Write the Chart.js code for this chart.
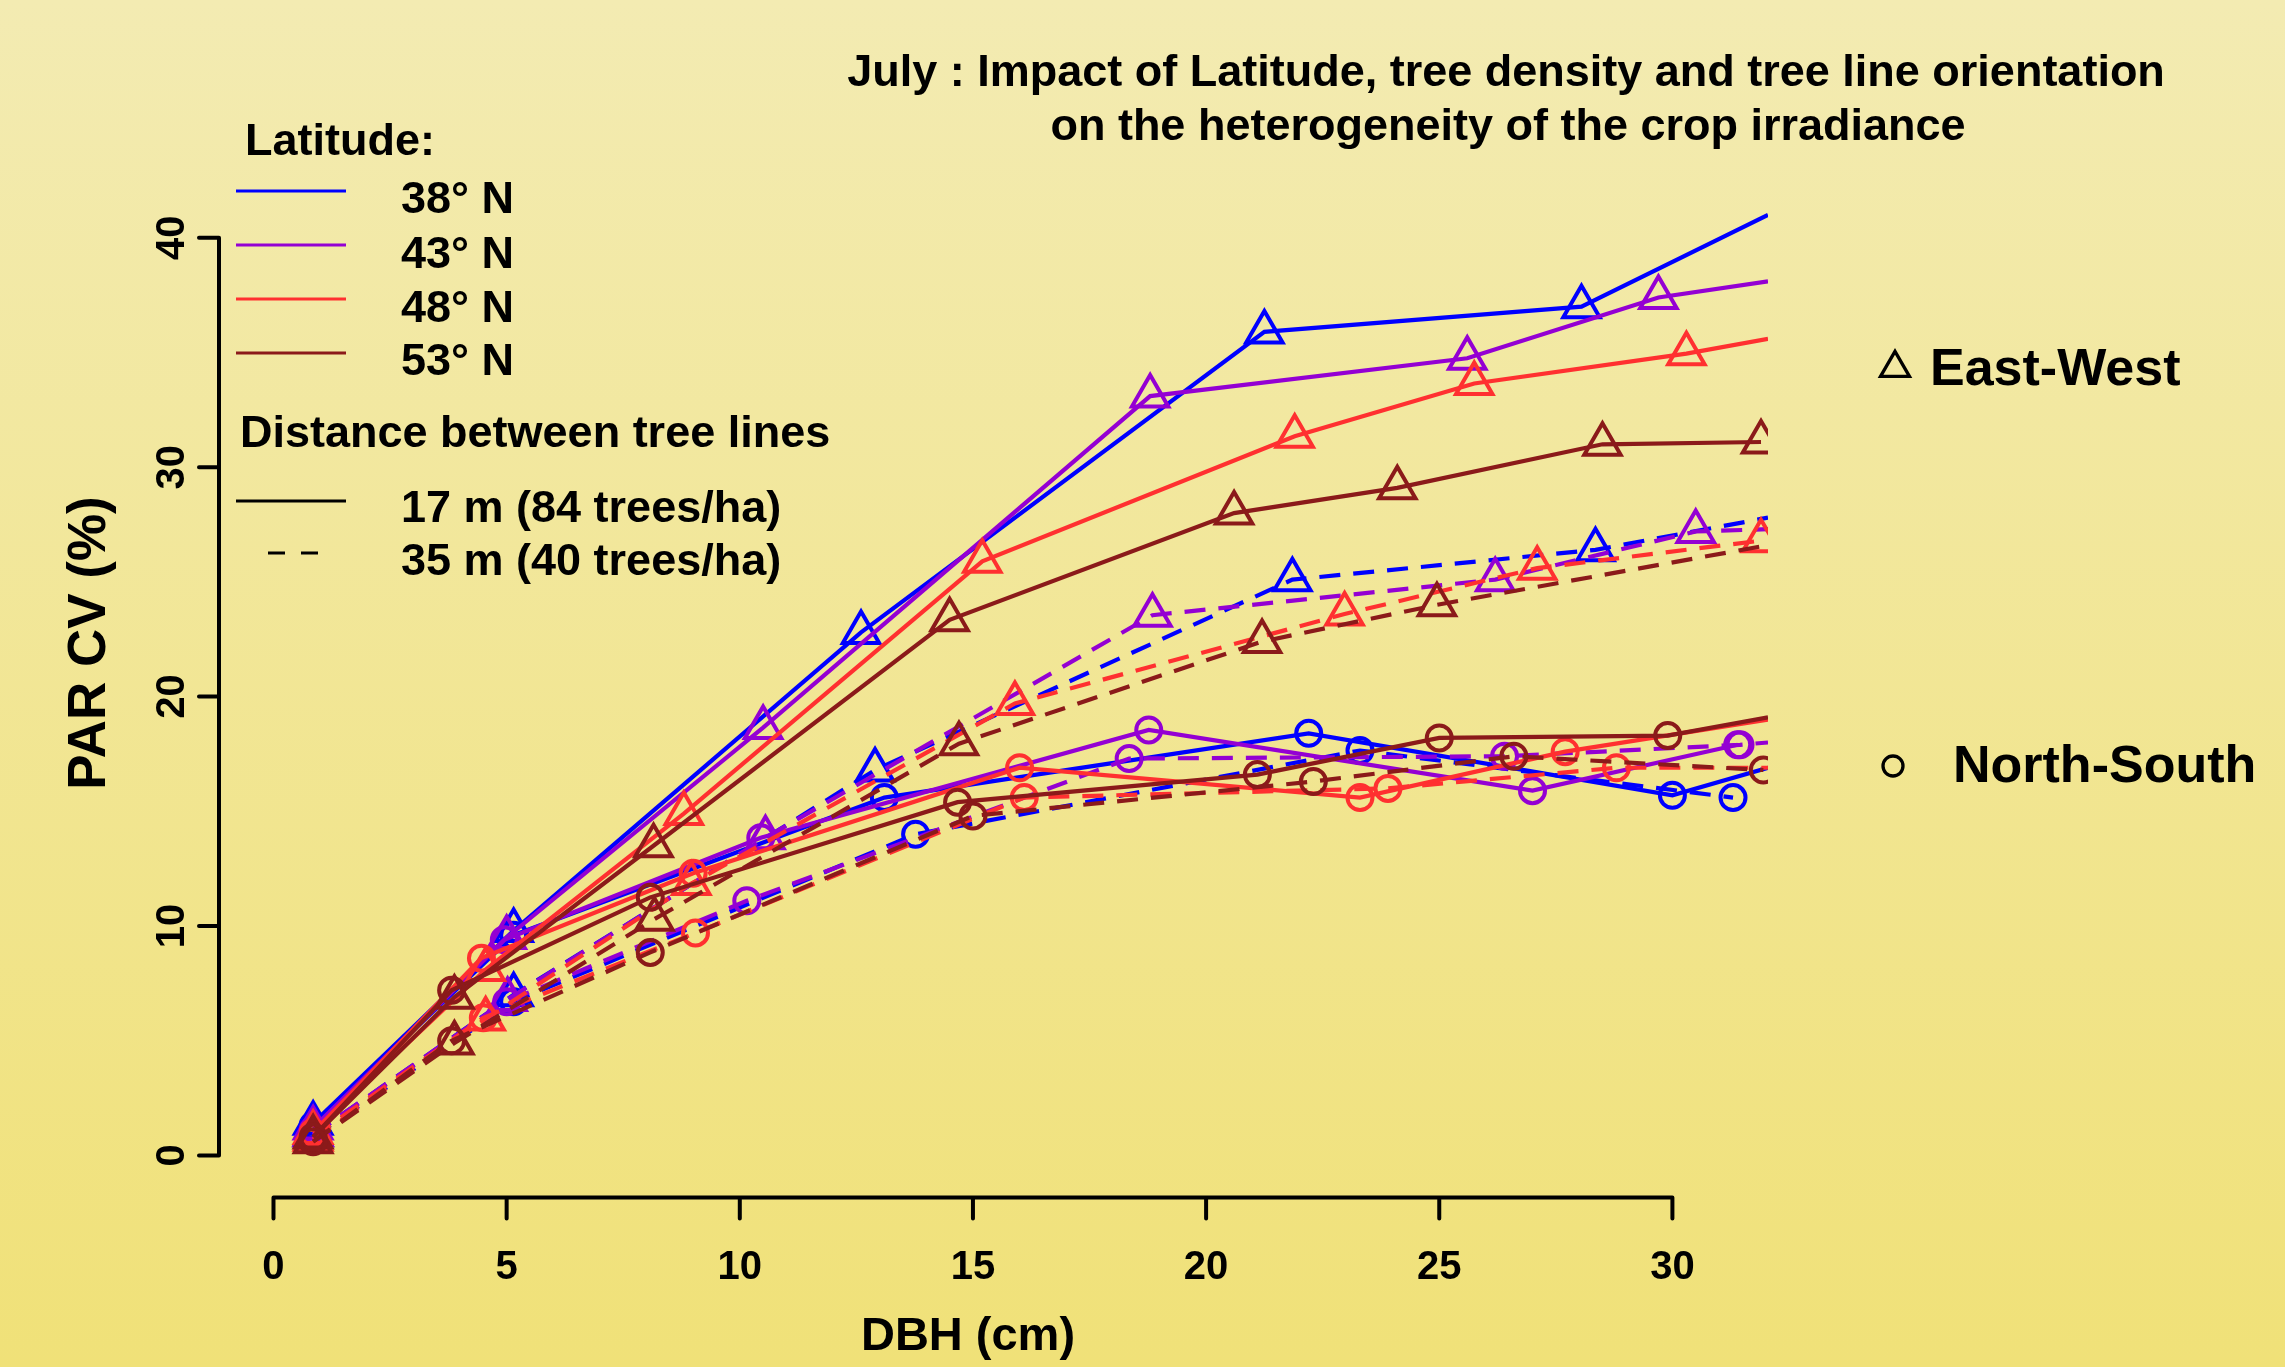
<!DOCTYPE html>
<html>
<head>
<meta charset="utf-8">
<script src="https://cdn.jsdelivr.net/npm/chart.js@4.4.1/dist/chart.umd.min.js"></script>
<style>
  html, body { margin: 0; padding: 0; }
  body { width: 2285px; height: 1367px; overflow: hidden; }
  #wrap { position: relative; width: 2285px; height: 1367px; }
</style>
</head>
<body>
<div id="wrap"><canvas id="parChart"></canvas></div>
<script>
// Latitude groups (one colour each)
const LATITUDES = ['38° N', '43° N', '48° N', '53° N'];
const LAT_COLORS = ['#0000FF', '#9400D3', '#FF3030', '#8B1A1A'];

const X_TICKS = [0, 5, 10, 15, 20, 25, 30];
const Y_TICKS = [0, 10, 20, 30, 40];

// East-West rows, 17 m between tree lines (solid, triangles)
const EW17_DBH = [
  [0.85, 5.15, 12.6, 21.25, 28.05, 32.05],
  [0.85, 5.0, 10.5, 18.8, 25.6, 29.7, 32.05],
  [0.85, 4.55, 8.8, 15.2, 21.9, 25.75, 30.3, 32.05],
  [0.85, 3.88, 8.15, 14.5, 20.6, 24.1, 28.5, 31.9]
];
const EW17_CV = [
  [1.4, 9.8, 22.8, 35.9, 37.0, 41.0],
  [1.2, 9.5, 18.65, 33.1, 34.75, 37.4, 38.1],
  [1.0, 8.1, 14.9, 25.9, 31.35, 33.65, 34.95, 35.6],
  [0.8, 6.9, 13.5, 23.35, 28.0, 29.1, 31.0, 31.1]
];

// East-West rows, 35 m between tree lines (dashed, triangles)
const EW35_DBH = [
  [0.85, 5.15, 12.9, 21.85, 28.35, 32.05],
  [0.85, 5.02, 10.55, 18.85, 26.2, 30.5, 32.05],
  [0.85, 4.55, 8.96, 15.9, 22.97, 27.1, 31.9],
  [0.85, 3.88, 8.17, 14.7, 21.2, 24.95, 32.05]
];
const EW35_CV = [
  [0.9, 7.0, 16.8, 25.1, 26.4, 27.8],
  [0.9, 6.8, 13.85, 23.55, 25.1, 27.2, 27.3],
  [0.7, 5.95, 11.85, 19.7, 23.6, 25.6, 26.8],
  [0.6, 4.9, 10.3, 17.95, 22.4, 24.0, 26.6]
];

// North-South rows, 17 m between tree lines (solid, circles)
const NS17_DBH = [
  [0.85, 5.15, 13.1, 22.2, 30.0, 32.05],
  [0.85, 4.95, 10.45, 18.77, 27.0, 31.4],
  [0.85, 4.46, 9.0, 16.0, 23.3, 27.7, 32.05],
  [0.85, 3.82, 8.08, 14.67, 21.1, 25.0, 29.9, 32.05]
];
const NS17_CV = [
  [1.3, 9.6, 15.6, 18.4, 15.7, 16.9],
  [1.1, 9.4, 13.85, 18.55, 15.9, 17.9],
  [1.0, 8.6, 12.3, 16.9, 15.6, 17.6, 19.0],
  [0.8, 7.2, 11.25, 15.4, 16.6, 18.2, 18.3, 19.1]
];

// North-South rows, 35 m between tree lines (dashed, circles)
const NS35_DBH = [
  [0.85, 5.15, 13.77, 23.3, 31.3],
  [0.85, 5.0, 10.15, 18.35, 26.4, 31.45, 32.05],
  [0.85, 4.5, 9.05, 16.1, 23.9, 28.8, 32.05],
  [0.85, 3.82, 8.08, 15.0, 22.3, 26.6, 31.95]
];
const NS35_CV = [
  [0.8, 6.7, 14.0, 17.65, 15.6],
  [0.9, 6.7, 11.1, 17.3, 17.4, 17.9, 18.0],
  [0.8, 6.0, 9.7, 15.6, 16.0, 16.9, 16.9],
  [0.6, 5.0, 8.85, 14.8, 16.3, 17.4, 16.8]
];

const X_MIN = -1.19, X_EDGE = 32.05;
const Y_MIN = -1.9, Y_MAX = 41.3;
const FONT = '"Liberation Sans", Arial, Helvetica, sans-serif';

function toPoints(xs, ys) {
  return xs.map((x, i) => ({ x: x, y: ys[i] }));
}

function makeSet(label, xs, ys, color, dashed, shape) {
  const r = shape === 'triangle' ? 21 : 12.5;
  return {
    label: label,
    data: toPoints(xs, ys),
    borderColor: color,
    borderWidth: 4.2,
    borderDash: dashed ? [21, 13] : [],
    pointStyle: shape,
    // values read at the clipped right edge get no marker
    pointRadius: ctx => (ctx.raw && ctx.raw.x >= X_EDGE) ? 0 : r,
    pointBorderColor: color,
    pointBackgroundColor: 'rgba(0,0,0,0)',
    pointBorderWidth: 4,
    tension: 0,
    clip: 0
  };
}

// R-like drawing order: latitude by latitude, 53° N ends on top
const datasets = [];
LATITUDES.forEach((lat, i) => {
  const c = LAT_COLORS[i];
  datasets.push(makeSet(lat + ' EW 17 m', EW17_DBH[i], EW17_CV[i], c, false, 'triangle'));
  datasets.push(makeSet(lat + ' EW 35 m', EW35_DBH[i], EW35_CV[i], c, true, 'triangle'));
  datasets.push(makeSet(lat + ' NS 17 m', NS17_DBH[i], NS17_CV[i], c, false, 'circle'));
  datasets.push(makeSet(lat + ' NS 35 m', NS35_DBH[i], NS35_CV[i], c, true, 'circle'));
});
datasets.forEach((d, i) => { d.order = datasets.length - i; });

/**
 * Background, base-graphics style axes, legend and titles.
 */
const rStylePlot = {
  id: 'rStylePlot',
  beforeDraw(chart) {
    const ctx = chart.ctx;
    const g = ctx.createLinearGradient(0, 0, 0, chart.height);
    g.addColorStop(0, '#F3EBB2');
    g.addColorStop(1, '#F0E178');
    ctx.save();
    ctx.fillStyle = g;
    ctx.fillRect(0, 0, chart.width, chart.height);
    ctx.restore();
  },
  afterDraw(chart) {
    const ctx = chart.ctx;
    const xs = chart.scales.x;
    const ys = chart.scales.y;
    const area = chart.chartArea;
    ctx.save();
    ctx.strokeStyle = '#000';
    ctx.fillStyle = '#000';
    ctx.lineWidth = 4;
    ctx.lineCap = 'round';

    // x axis
    const yAx = area.bottom - 1.5;
    ctx.beginPath();
    ctx.moveTo(xs.getPixelForValue(X_TICKS[0]), yAx);
    ctx.lineTo(xs.getPixelForValue(X_TICKS[X_TICKS.length - 1]), yAx);
    X_TICKS.forEach(t => {
      const px = xs.getPixelForValue(t);
      ctx.moveTo(px, yAx);
      ctx.lineTo(px, yAx + 21);
    });
    ctx.stroke();
    ctx.font = 'bold 40px ' + FONT;
    ctx.textAlign = 'center';
    ctx.textBaseline = 'middle';
    X_TICKS.forEach(t => ctx.fillText(String(t), xs.getPixelForValue(t), 1268));

    // y axis
    const xAx = area.left + 1;
    ctx.beginPath();
    ctx.moveTo(xAx, ys.getPixelForValue(Y_TICKS[0]));
    ctx.lineTo(xAx, ys.getPixelForValue(Y_TICKS[Y_TICKS.length - 1]));
    Y_TICKS.forEach(t => {
      const py = ys.getPixelForValue(t);
      ctx.moveTo(xAx, py);
      ctx.lineTo(xAx - 20, py);
    });
    ctx.stroke();
    Y_TICKS.forEach(t => {
      ctx.save();
      ctx.translate(173, ys.getPixelForValue(t));
      ctx.rotate(-Math.PI / 2);
      ctx.fillText(String(t), 0, 0);
      ctx.restore();
    });

    // axis titles
    ctx.font = 'bold 47px ' + FONT;
    ctx.textBaseline = 'alphabetic';
    ctx.fillText('DBH (cm)', 968, 1350);
    ctx.save();
    ctx.translate(90, 643);
    ctx.rotate(-Math.PI / 2);
    ctx.textBaseline = 'middle';
    ctx.font = 'bold 53px ' + FONT;
    ctx.fillText('PAR CV (%)', 0, 0);
    ctx.restore();

    // main title
    ctx.font = 'bold 45px ' + FONT;
    ctx.textAlign = 'center';
    ctx.textBaseline = 'alphabetic';
    ctx.fillText('July : Impact of Latitude, tree density and tree line orientation', 1506, 86);
    ctx.fillText('on the heterogeneity of the crop irradiance', 1508, 140);

    // legend
    ctx.textAlign = 'left';
    ctx.font = 'bold 45px ' + FONT;
    ctx.fillText('Latitude:', 245, 155);
    const lineY = [191, 245, 299, 353];
    const textY = [213, 268, 322, 375];
    ctx.lineWidth = 3;
    ctx.lineCap = 'butt';
    LATITUDES.forEach((lat, i) => {
      ctx.strokeStyle = LAT_COLORS[i];
      ctx.beginPath();
      ctx.moveTo(236, lineY[i]);
      ctx.lineTo(346, lineY[i]);
      ctx.stroke();
      ctx.fillText(lat, 401, textY[i]);
    });
    ctx.fillText('Distance between tree lines', 240, 447);
    ctx.strokeStyle = '#000';
    ctx.beginPath();
    ctx.moveTo(236, 501);
    ctx.lineTo(346, 501);
    ctx.stroke();
    ctx.fillText('17 m (84 trees/ha)', 401, 522);
    ctx.setLineDash([17, 16]);
    ctx.beginPath();
    ctx.moveTo(268, 553);
    ctx.lineTo(318, 553);
    ctx.stroke();
    ctx.setLineDash([]);
    ctx.fillText('35 m (40 trees/ha)', 401, 575);

    // orientation key on the right
    ctx.lineWidth = 3.3;
    ctx.lineJoin = 'miter';
    const tr = 16.7;
    ctx.beginPath();
    ctx.moveTo(1895, 368 - tr);
    ctx.lineTo(1895 + tr * Math.sin(2 * Math.PI / 3), 368 + tr / 2);
    ctx.lineTo(1895 - tr * Math.sin(2 * Math.PI / 3), 368 + tr / 2);
    ctx.closePath();
    ctx.stroke();
    ctx.beginPath();
    ctx.arc(1893, 766, 10, 0, Math.PI * 2);
    ctx.stroke();
    ctx.font = 'bold 52px ' + FONT;
    ctx.fillText('East-West', 1930, 385);
    ctx.fillText('North-South', 1953, 782);
    ctx.restore();
  }
};

new Chart(document.getElementById('parChart').getContext('2d'), {
  type: 'line',
  data: { datasets: datasets },
  options: {
    responsive: true,
    maintainAspectRatio: false,
    animation: false,
    events: [],
    layout: {
      padding: { left: 218, right: 2285 - 1768, top: 208, bottom: 1367 - 1199 }
    },
    plugins: {
      legend: { display: false },
      tooltip: { enabled: false },
      title: { display: false }
    },
    scales: {
      x: { type: 'linear', min: X_MIN, max: X_EDGE, display: false },
      y: { type: 'linear', min: Y_MIN, max: Y_MAX, display: false }
    }
  },
  plugins: [rStylePlot]
});
</script>
</body>
</html>
